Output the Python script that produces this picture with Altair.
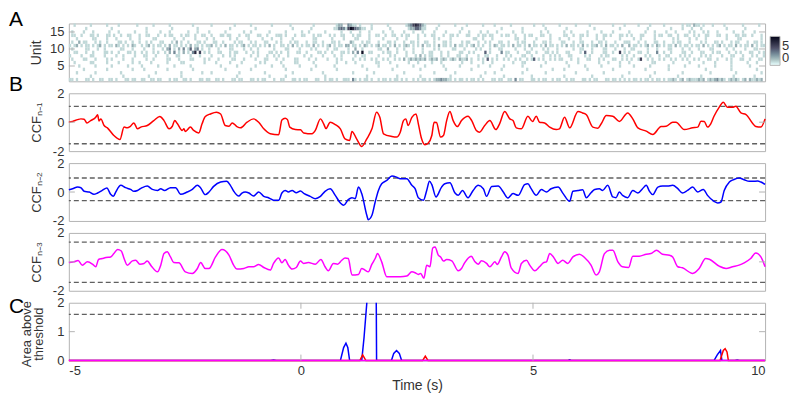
import altair as alt
import pandas as pd

FONT = "Liberation Sans"
FRAME = "#b4b4b4"
DASH = "#606060"
TXT = "#333333"
W, H = 698, 58

X_DOMAIN = [-5, 10]
BIN = 0.05  # seconds per heat-map column

# ---- Panel A: unit activity, rows from unit 17 (top) to unit 1 (bottom), one char per 0.05 s bin
UNITS = list(range(17, 0, -1))
HEAT_ROWS = [
    ("001000000100000010000100000001" "000000100000010000000001000000" "010000000001000000100000000100"
     "000001000000000100000000012200" "321101000010000001000000012356" "542100000100000010000100000010"
     "000100000010000000001000100000" "010000001000001000000000100001" "000001000010000010000000101102"
     "110100010000100000001000000100"),
    ("000000010000000000100000000000" "000100000000001000000000010000" "000000000100000000001000000000"
     "000000100000001000000000113431" "576432110010000000100000001224" "431100001000000000010000000000"
     "000000100000000100000000010000" "000010000000000010000000000100" "000000000100000000010000100010"
     "001000000000010000000100000000"),
    ("010000100010000001000100000010" "000100000100010000000100010000" "100000010000000100100000001000"
     "000100000010010000001000000100" "010001000100000100010000100010" "001000010000100000100010000100"
     "100010000001000100000001001000" "000100100000010000010000100000" "010000001000100001000100000101"
     "000101000100000010001000010000"),
    ("011001000110100011010010011000" "100110001001011000101100100110" "010001101100010011000110010001"
     "110100010011000101100010100110" "001011000100110010011001011000" "100100110001001101000110001011"
     "011000101100100010110001100100" "000110010011010001001101000110" "101000110000101100110010011001"
     "010011000110010001101100100010"),
    ("000100000011000010001000001000" "100000110000000100010000100001" "001000000100100001000001000100"
     "010000100000000110000001000010" "000110000100000100000100010000" "100000010100001000000000110010"
     "001000000000110010000100000100" "010001000010000001001000000100" "000100100000100000001010000100"
     "100010000000010000110000000010"),
    ("010020110001010010000110100100" "100101000110001020100100011010" "001100100001011000101000110001"
     "010001011000100110010001101000" "021000101100010001101000100110" "100110010001101000010110001001"
     "010001100100010110001000110100" "001100010011000100110100010001" "110001001000110010001011000100"
     "001010001101000101100010011010"),
    ("101201011010120101102101010210" "010120101101020110101020110101" "120101020110101201011010102010"
     "011010201010110201010120101102" "201101021010120110102010121010" "102011010201101020110101201010"
     "010210110102011010201101020110" "101020110102010112010201101020" "020110101201021010110201011010"
     "110201010120101102010110201011"),
    ("010000011000100100000011000100" "001000100010230102030140230100" "100010000110000100100100000010"
     "000110000100001010000100110000" "100200100000011002000100100010" "001000010100000110001000010100"
     "010001100000100010010000101000" "100000010011000100001100010001" "001100000100010000110000100100"
     "010000110000010010000100011000"),
    ("001100010010000110100100011010" "010100101001020301020103605010" "100011000101100010010100001101"
     "010010001100100001101001000110" "102030700110000101100100010010" "001001100010010000110010100004"
     "010000301100010001100100011010" "100011000010400100001100100501" "010001100100030010010000110010"
     "001100010110001001010001100101"),
    ("100001000110000100001001000010" "001100010000100011000010001000" "010000100101000000100100010010"
     "100010000001001000010000100100" "000100110000010000101000010001" "020101100010010001100100001001"
     "100010001010000110010000100101" "010001100000101000010110000010" "100100001010001001100001010100"
     "001010100001000110001000101001"),
    ("010000110001000010100001000100" "000100100000110001000011000010" "100010000011000100001000110001"
     "001000011000010010000100010100" "001001010010100101001010201212" "121201212012101210211201001010"
     "401010010100101001014010100101" "011000100100011000101000110010" "101001500101001010010100101001"
     "010001100100010100011001000110"),
    ("001000000110000010000100000100" "100001000000100000110000000010" "000100000100001000000010100000"
     "010000011000000100000000010001" "000100000000110000100000001000" "100000100010000000010001000010"
     "001000000001000110000000010000" "000010000100000000100010000100" "010000000001100000001000000100"
     "000100001000000100000010001000"),
    ("000010000001000000100000010000" "010000001000000100000010000000" "000001000000100000001000000100"
     "001000000100000010000000100000" "000000100000010000000100000010" "000100000001000000100000001000"
     "010000010000000100000001000000" "000001000000100000010000000100" "000100000010000000100000010000"
     "010000001000000100000001000000"),
    ("000000100000000010000000000100" "001000000000100000000001000000" "000000010000000000100000000000"
     "000100000000001000000000010000" "000000001000000000010000000000" "010000000000100000000001000000"
     "000000100000000001000000000010" "000100000000010000000000100000" "000000001000000000100000000000"
     "000010000000000100000000001000"),
    ("000100000001000000000010000000" "000000010000000000100000000100" "010000000000010000000000100000"
     "000000100000000000010000000000" "001000000001000000000000100000" "000000010000000010000000000001"
     "000100000000000100000000010000" "000000001000000000001000000000" "010000000000100000000000100000"
     "000000100000000001000000000010"),
    ("000000000100000000000001000000" "000010000000000000100000000000" "000000000000100000000000001000"
     "000100000000000000001000000000" "000000001000000000000100000000" "010000000000001000000000000100"
     "000000010000000000010000000000" "000100000000000100000000000010" "000000000010000000000010000000"
     "001000000000000010000000010000"),
    ("110100011010011001101000110110" "011001101100010110011010001101" "100110100011011000110101100010"
     "011000110101100011001011010011" "103101011010010110101101010010" "101101012232211010110101101010"
     "001101100110301100011010110010" "110010110001101011000110110101" "010110101101011010112101201211"
     "121201212312101212101202112120"),
]

# ---- Panel B: cross-correlation traces (time s, value)
RED = [(-5.00, 0.00), (-4.92, 0.05), (-4.81, 0.18), (-4.74, 0.23), (-4.67, 0.21), (-4.61, -0.05), (-4.53, 0.11),
       (-4.42, 0.34), (-4.38, 0.51), (-4.35, 0.09), (-4.31, 0.23), (-4.24, -0.23), (-4.17, -0.39), (-4.03, -0.92),
       (-3.90, -1.20), (-3.81, -0.34), (-3.74, -0.39), (-3.68, -0.30), (-3.60, -0.05), (-3.52, -0.46), (-3.45, -0.34),
       (-3.31, -0.23), (-3.17, 0.11), (-3.04, 0.39), (-2.95, 0.11), (-2.84, -0.46), (-2.77, -0.28), (-2.72, 0.11),
       (-2.66, -0.11), (-2.56, -0.57), (-2.52, -0.46), (-2.49, -0.64), (-2.38, -0.34), (-2.31, -0.57), (-2.20, -0.74),
       (-2.13, -0.11), (-2.06, 0.39), (-1.95, 0.57), (-1.82, 0.69), (-1.73, 0.57), (-1.63, -0.23), (-1.55, -0.28),
       (-1.48, -0.05), (-1.38, -0.30), (-1.30, -0.39), (-1.16, 0.00), (-1.02, 0.23), (-0.91, 0.00), (-0.80, -0.46),
       (-0.66, -0.80), (-0.48, -0.87), (-0.41, 0.16), (-0.34, 0.28), (-0.29, 0.18), (-0.24, -0.34), (-0.12, -0.51),
       (-0.01, -0.53), (0.06, -0.74), (0.24, -0.80), (0.31, -0.57), (0.42, 0.23), (0.49, -0.11), (0.54, -0.44),
       (0.63, 0.00), (0.74, -0.16), (0.85, -0.46), (0.95, -1.15), (1.05, -1.26), (1.10, -0.64), (1.20, -1.15),
       (1.31, -1.68), (1.42, -1.15), (1.53, -0.46), (1.63, 0.69), (1.70, 0.34), (1.78, -0.80), (1.96, -0.99),
       (2.06, -1.03), (2.14, -0.69), (2.21, 0.11), (2.26, 0.23), (2.31, -0.23), (2.39, 0.34), (2.48, 0.57),
       (2.53, -0.11), (2.60, -1.15), (2.67, -1.56), (2.74, -1.45), (2.82, -0.92), (2.87, 0.00), (2.92, -0.02),
       (3.01, -1.03), (3.07, -0.92), (3.14, 0.11), (3.21, 0.74), (3.28, 0.11), (3.37, -0.30), (3.46, 0.11),
       (3.60, 0.41), (3.68, 0.11), (3.78, -0.57), (3.85, -0.69), (3.96, -0.23), (4.07, 0.11), (4.20, -0.51),
       (4.28, -0.11), (4.39, 0.74), (4.50, 0.23), (4.57, 0.11), (4.64, -0.39), (4.75, -0.46), (4.89, 0.41),
       (4.99, 0.05), (5.07, 0.41), (5.14, 0.00), (5.25, -0.05), (5.36, -0.34), (5.50, -0.51), (5.57, -0.46),
       (5.68, 0.34), (5.79, -0.39), (5.97, 0.74), (6.07, 0.64), (6.15, 0.51), (6.29, -0.34), (6.40, -0.41),
       (6.47, -0.11), (6.58, 0.46), (6.72, 0.41), (6.86, 0.05), (7.04, 0.64), (7.15, 0.23), (7.26, -0.39),
       (7.44, -0.62), (7.58, -0.85), (7.76, -0.30), (7.87, -0.28), (8.01, 0.00), (8.08, 0.00), (8.26, -0.51),
       (8.44, -0.39), (8.55, -0.34), (8.62, 0.07), (8.69, 0.05), (8.76, -0.34), (8.83, -0.11), (8.90, 0.41),
       (9.01, 1.03), (9.10, 1.38), (9.19, 1.03), (9.30, 1.03), (9.37, 1.10), (9.48, 0.64), (9.59, 0.53),
       (9.73, -0.07), (9.80, -0.30), (9.91, -0.34), (10.00, 0.23)]

BLUE = [(-5.00, 0.16), (-4.92, 0.23), (-4.81, 0.34), (-4.74, 0.30), (-4.67, 0.05), (-4.56, 0.00), (-4.46, -0.16),
        (-4.38, -0.07), (-4.28, 0.11), (-4.18, 0.28), (-4.10, -0.16), (-4.04, -0.30), (-3.99, 0.00), (-3.88, 0.46),
        (-3.78, 0.30), (-3.67, 0.18), (-3.60, 0.05), (-3.52, 0.11), (-3.42, 0.30), (-3.31, 0.41), (-3.20, 0.18),
        (-3.09, 0.11), (-3.02, 0.23), (-2.94, 0.11), (-2.81, 0.30), (-2.70, 0.30), (-2.59, -0.16), (-2.45, 0.00),
        (-2.34, 0.18), (-2.23, 0.46), (-2.16, 0.28), (-2.06, -0.18), (-1.98, 0.00), (-1.88, 0.39), (-1.73, 0.69),
        (-1.60, 0.74), (-1.52, 0.46), (-1.45, 0.07), (-1.34, -0.28), (-1.27, -0.07), (-1.20, 0.00), (-1.12, -0.07),
        (-1.02, -0.28), (-0.91, 0.00), (-0.80, -0.30), (-0.69, -0.41), (-0.59, -0.57), (-0.48, -0.57), (-0.41, -0.07),
        (-0.34, 0.11), (-0.27, 0.00), (-0.19, 0.11), (-0.10, -0.05), (-0.01, 0.07), (0.07, -0.11), (0.20, -0.30),
        (0.31, -0.46), (0.42, -0.30), (0.52, 0.05), (0.63, 0.23), (0.74, -0.23), (0.85, -0.76), (0.92, -0.92),
        (1.02, -0.53), (1.10, -0.39), (1.17, -0.46), (1.24, 0.34), (1.31, -0.11), (1.42, -1.61), (1.45, -1.91),
        (1.53, -1.61), (1.60, -0.69), (1.67, 0.11), (1.74, 0.57), (1.85, 0.80), (1.96, 1.10), (2.06, 1.03),
        (2.14, 0.92), (2.28, 0.92), (2.39, 0.46), (2.46, 0.23), (2.53, -0.39), (2.64, -0.57), (2.71, 0.11),
        (2.77, 0.74), (2.82, 0.51), (2.91, -0.34), (3.03, 0.34), (3.10, 0.57), (3.21, 0.64), (3.32, -0.07),
        (3.39, -0.23), (3.48, 0.11), (3.60, -0.39), (3.71, 0.11), (3.82, 0.46), (3.93, 0.23), (4.00, -0.30),
        (4.11, 0.39), (4.25, 0.41), (4.36, 0.00), (4.46, -0.41), (4.57, -0.11), (4.68, -0.23), (4.82, 0.51),
        (4.89, 0.57), (4.96, 0.23), (5.07, -0.23), (5.18, 0.18), (5.29, 0.00), (5.39, 0.23), (5.54, 0.34),
        (5.65, -0.11), (5.79, -0.64), (5.86, 0.05), (5.97, 0.11), (6.07, 0.16), (6.15, -0.39), (6.25, -0.05),
        (6.33, 0.18), (6.43, 0.23), (6.50, 0.11), (6.61, 0.46), (6.72, -0.34), (6.79, -0.39), (6.86, 0.00),
        (6.93, -0.23), (7.04, -0.39), (7.15, 0.11), (7.26, -0.07), (7.36, 0.23), (7.44, 0.46), (7.51, 0.05),
        (7.58, -0.18), (7.69, 0.34), (7.79, 0.41), (7.90, 0.41), (8.01, 0.46), (8.12, 0.23), (8.22, -0.07),
        (8.33, 0.11), (8.44, 0.34), (8.55, 0.00), (8.67, 0.18), (8.76, -0.23), (8.90, -0.64), (8.98, -0.76),
        (9.05, -0.69), (9.12, 0.11), (9.23, 0.69), (9.33, 0.87), (9.44, 0.97), (9.55, 0.85), (9.66, 0.74),
        (9.73, 0.74), (9.84, 0.76), (9.91, 0.69), (10.00, 0.53)]

MAGENTA = [(-5.00, -0.05), (-4.89, 0.00), (-4.80, 0.09), (-4.71, -0.23), (-4.60, 0.00), (-4.49, -0.16), (-4.42, -0.34),
           (-4.36, 0.16), (-4.28, 0.23), (-4.20, 0.30), (-4.10, 0.34), (-4.03, 0.57), (-3.95, 0.85), (-3.87, 0.75),
           (-3.81, 0.23), (-3.74, -0.23), (-3.63, 0.07), (-3.56, 0.11), (-3.47, -0.16), (-3.38, -0.11), (-3.31, 0.05),
           (-3.22, -0.30), (-3.09, -0.69), (-3.02, -0.23), (-2.95, 0.57), (-2.88, 0.69), (-2.81, 0.34), (-2.74, -0.05),
           (-2.63, -0.07), (-2.49, -0.69), (-2.34, -0.80), (-2.23, -0.46), (-2.16, -0.05), (-2.06, -0.46), (-1.98, -0.46),
           (-1.84, 0.34), (-1.70, 0.85), (-1.55, 0.46), (-1.45, -0.23), (-1.38, -0.50), (-1.23, -0.46), (-1.12, -0.34),
           (-1.02, -0.34), (-0.91, -0.18), (-0.80, -0.39), (-0.66, -0.57), (-0.59, -0.11), (-0.48, 0.27), (-0.41, -0.07),
           (-0.34, 0.16), (-0.27, -0.23), (-0.19, -0.50), (-0.10, -0.39), (-0.01, 0.05), (0.06, -0.11), (0.16, -0.05),
           (0.31, -0.16), (0.43, 0.16), (0.52, -0.34), (0.59, -0.62), (0.70, -0.11), (0.79, -0.16), (0.88, 0.11),
           (0.95, 0.27), (1.02, 0.23), (1.10, -0.91), (1.24, -0.87), (1.31, -0.46), (1.38, -0.57), (1.45, -0.69),
           (1.53, -0.16), (1.60, 0.23), (1.65, 0.57), (1.74, 0.00), (1.85, -1.03), (1.99, -1.03), (2.14, -1.03),
           (2.28, -0.98), (2.39, -0.69), (2.46, -0.75), (2.53, -0.87), (2.58, -0.80), (2.65, -1.14), (2.71, -0.23),
           (2.78, -0.34), (2.84, 0.96), (2.89, 1.03), (2.96, 0.46), (3.01, 0.34), (3.07, 0.05), (3.14, 0.16),
           (3.25, 0.07), (3.39, -0.62), (3.46, -0.46), (3.53, -0.05), (3.67, 0.39), (3.75, 0.00), (3.82, -0.16),
           (3.89, 0.07), (4.00, -0.11), (4.07, -0.34), (4.18, 0.00), (4.23, -0.18), (4.32, 0.34), (4.39, 0.69),
           (4.46, 0.46), (4.53, -0.41), (4.68, -0.80), (4.75, -0.11), (4.86, 0.11), (4.93, -0.23), (5.04, -0.62),
           (5.14, -0.34), (5.22, -0.07), (5.29, 0.00), (5.36, 0.57), (5.44, 0.34), (5.54, -0.11), (5.64, 0.11),
           (5.75, -0.11), (5.86, 0.34), (6.00, 0.53), (6.11, 0.30), (6.25, -0.23), (6.36, -0.91), (6.43, -0.69),
           (6.54, 0.57), (6.65, 0.80), (6.72, 0.80), (6.83, 0.00), (6.93, -0.34), (7.06, -0.39), (7.15, 0.39),
           (7.29, 0.39), (7.44, 0.53), (7.54, 0.57), (7.66, 0.80), (7.79, 0.53), (7.94, 0.46), (8.01, 0.34),
           (8.12, -0.34), (8.22, -0.41), (8.44, -0.80), (8.58, -0.46), (8.72, 0.23), (8.80, 0.18), (9.01, -0.30),
           (9.16, -0.46), (9.30, -0.34), (9.44, -0.23), (9.55, -0.07), (9.69, 0.23), (9.80, 0.62), (9.91, 0.34),
           (10.00, -0.34)]

RED_THR = [1.10, -1.49]
BLUE_THR = [0.97, -0.60]
MAGENTA_THR = [1.37, -1.42]

# ---- Panel C: area above threshold
AREA_BLUE = [(-5.00, 0), (-0.65, 0), (-0.59, 0.02), (-0.53, 0), (0.85, 0), (0.92, 0.45), (0.97, 0.6), (1.01, 0.45),
             (1.05, 0), (1.31, 0), (1.36, 0.8), (1.42, 2.0), (1.47, 3.5), (1.55, 5.0), (1.60, 5.0), (1.62, 3.0),
             (1.63, 0), (1.95, 0), (2.00, 0.25), (2.06, 0.35), (2.12, 0.25), (2.17, 0), (5.74, 0), (5.79, 0.03),
             (5.84, 0), (8.90, 0), (8.97, 0.2), (9.04, 0.35), (9.07, 0), (9.35, 0), (9.40, 0.02), (9.45, 0),
             (10.00, 0)]
AREA_RED = [(-5.00, 0), (1.27, 0), (1.33, 0.2), (1.40, 0), (2.62, 0), (2.68, 0.15), (2.74, 0), (9.03, 0),
            (9.10, 0.35), (9.14, 0.41), (9.18, 0.3), (9.21, 0), (10.00, 0)]
AREA_MAGENTA = [(-5.00, 0), (10.00, 0)]
AREA_THR = [1.6]

PANEL_LETTERS = ["A", "B", "C"]

xscale = alt.Scale(domain=X_DOMAIN, nice=False, zero=False)


def letter(txt, ypix, baseline="alphabetic"):
    return alt.Chart(pd.DataFrame({"lab": [txt]})).mark_text(
        font=FONT, fontSize=21, align="left", baseline=baseline, color="black"
    ).encode(text="lab:N", x=alt.value(-60), y=alt.value(ypix))


def inner_ticks_y(vals, field, yscale, axis):
    d = pd.DataFrame({field: vals})
    enc_y = alt.Y(f"{field}:Q", scale=yscale, axis=axis)
    left = alt.Chart(d).mark_rule(color=FRAME, strokeWidth=1).encode(y=enc_y, x=alt.value(0), x2=alt.value(6))
    right = alt.Chart(d).mark_rule(color=FRAME, strokeWidth=1).encode(y=enc_y, x=alt.value(W - 6), x2=alt.value(W))
    return [left, right]


# ---------------- Panel A
recs = []
for u, row in zip(UNITS, HEAT_ROWS):
    for i, ch in enumerate(row[:300]):
        if ch != "0":
            recs.append({"t0": X_DOMAIN[0] + BIN * i, "t1": X_DOMAIN[0] + BIN * (i + 1),
                         "u0": u - 0.5, "u1": u + 0.5, "v": int(ch)})
heat_df = pd.DataFrame(recs)

uscale = alt.Scale(domain=[0.5, 17.5], nice=False, zero=False)
uaxis = alt.Axis(values=[5, 10, 15], labelExpr="'' + datum.value", title="Unit", titleX=-28, titleY=H / 2,
                 titleBaseline="alphabetic", titleAlign="center", titleFontSize=14)
heat = alt.Chart(heat_df).mark_rect().encode(
    x=alt.X("t0:Q", scale=xscale, axis=None),
    x2="t1:Q",
    y=alt.Y("u0:Q", scale=uscale, axis=uaxis),
    y2="u1:Q",
    color=alt.Color("v:Q", scale=alt.Scale(domain=[0, 1.5, 4.5, 7.5],
                                           range=["#ffffff", "#abc2c2", "#505068", "#000000"]),
                    legend=alt.Legend(orient="none", legendX=703, legendY=13, title=None, values=[0, 5],
                                      gradientLength=29, gradientThickness=10, direction="vertical",
                                      gradientStrokeColor=FRAME, gradientStrokeWidth=1, labelFont=FONT,
                                      labelFontSize=13, labelColor=TXT, labelOffset=2, padding=0)),
)
panel_a = alt.layer(heat, *inner_ticks_y([5, 10, 15], "ut", uscale, uaxis),
                    letter(PANEL_LETTERS[0], -14, baseline="top")).properties(width=W, height=H)


# ---------------- Panels B
ccf_scale = alt.Scale(domain=[-2, 2], nice=False, zero=False)


def ccf_panel(points, thr, color, sub, extra=None):
    axis = alt.Axis(values=[-2, 0, 2], labelExpr="'' + datum.value", title="CCF" + sub, titleX=-28, titleY=H / 2,
                    titleBaseline="alphabetic", titleAlign="center", titleFontSize=13)
    df = pd.DataFrame(points, columns=["t", "v"])
    thr_df = pd.DataFrame({"thr": thr})
    rules = alt.Chart(thr_df).mark_rule(color=DASH, strokeDash=[5, 3], strokeWidth=1.3).encode(
        y=alt.Y("thr:Q", scale=ccf_scale, axis=axis))
    line = alt.Chart(df).mark_line(color=color, strokeWidth=1.5, interpolate="monotone").encode(
        x=alt.X("t:Q", scale=xscale, axis=None),
        y=alt.Y("v:Q", scale=ccf_scale, axis=axis))
    layers = [rules, line] + inner_ticks_y([0], "yt", ccf_scale, axis)
    if extra is not None:
        layers.append(extra)
    return alt.layer(*layers).properties(width=W, height=H)


panel_b1 = ccf_panel(RED, RED_THR, "#ff0000", "\u2099\u208b\u2081", extra=letter(PANEL_LETTERS[1], -2))
panel_b2 = ccf_panel(BLUE, BLUE_THR, "#0000ff", "\u2099\u208b\u2082")
panel_b3 = ccf_panel(MAGENTA, MAGENTA_THR, "#ff00ff", "\u2099\u208b\u2083")

# ---------------- Panel C
area_scale = alt.Scale(domain=[0, 2], nice=False, zero=False)
area_axis = alt.Axis(values=[0, 1, 2], labelExpr="'' + datum.value", title=["Area above", "threshold"],
                     titleX=-38, titleY=31, titleBaseline="alphabetic", titleAlign="center", titleFontSize=13,
                     titleLineHeight=12)
time_axis = alt.Axis(values=[-5, 0, 5, 10], labelExpr="'' + datum.value", title="Time (s)", labelPadding=4,
                     titlePadding=1, titleFontSize=14)

c_layers = [alt.Chart(pd.DataFrame({"thr": AREA_THR})).mark_rule(color=DASH, strokeDash=[5, 3], strokeWidth=1.3)
            .encode(y=alt.Y("thr:Q", scale=area_scale, axis=area_axis))]
for pts, col, clip in [(AREA_BLUE, "#0000ff", True), (AREA_RED, "#ff0000", False), (AREA_MAGENTA, "#ff00ff", False)]:
    c_layers.append(alt.Chart(pd.DataFrame(pts, columns=["t", "v"])).mark_line(color=col, strokeWidth=1.5, clip=clip)
                    .encode(x=alt.X("t:Q", scale=xscale, axis=time_axis),
                            y=alt.Y("v:Q", scale=area_scale, axis=area_axis)))
xt = pd.DataFrame({"xt": [0, 5]})
for y1, y2 in [(0, 6), (H - 6, H)]:
    c_layers.append(alt.Chart(xt).mark_rule(color=FRAME, strokeWidth=1).encode(
        x=alt.X("xt:Q", scale=xscale, axis=time_axis), y=alt.value(y1), y2=alt.value(y2)))
c_layers += inner_ticks_y([1], "yt", area_scale, area_axis)
c_layers.append(letter(PANEL_LETTERS[2], 10))
panel_c = alt.layer(*c_layers).properties(width=W, height=H)

chart = alt.vconcat(panel_a, panel_b1, panel_b2, panel_b3, panel_c, spacing=12, bounds="flush").properties(
    padding={"left": 0, "top": 0, "right": 0, "bottom": 0}
).configure_view(stroke=FRAME, strokeWidth=1).configure_axis(
    domain=False, ticks=False, grid=False, labelFont=FONT, labelFontSize=13, labelColor=TXT, labelPadding=5,
    titleFont=FONT, titleFontWeight="normal", titleColor=TXT
)

chart.save("out.html", embed_options={"renderer": "svg", "actions": False})
